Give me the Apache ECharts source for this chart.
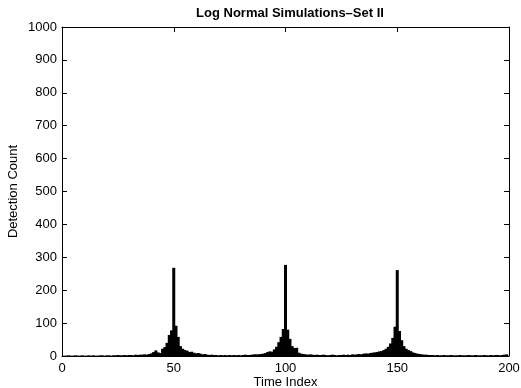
<!DOCTYPE html>
<html>
<head>
<meta charset="utf-8">
<script src="https://cdn.jsdelivr.net/npm/echarts@6/dist/echarts.min.js"></script>
<style>
  html, body { margin: 0; padding: 0; background: #fff; }
  #chart { width: 521px; height: 388px; }
</style>
</head>
<body>
<div id="chart"></div>
<script>
// detection counts for time index 1..199
const detectionCounts = [
  1, 1, 2, 1, 1, 2, 1, 1, 2, 1,          // 1-10
  1, 2, 1, 2, 1, 1, 2, 2, 1, 2,          // 11-20
  2, 1, 2, 2, 3, 2, 2, 3, 2, 3,          // 21-30
  3, 2, 4, 3, 4,                         // 31-35
  4, 5, 4, 6, 8, 12, 17, 11, 9, 22, 27, 40, 64, 78, 268, 92, 58, 30, 22, 18, 16, 12, 13, 10, 8, 9, 7, 5, 6, // 36-64
  4, 3, 4, 3, 3, 2, 3, 2, 3, 2, 3, 2, 3, 2, 3, 2, 3, 4, 3, 3, 4, 5, 5, // 65-87
  5, 6, 7, 9, 12, 14, 13, 20, 28, 42, 58, 82, 277, 80, 52, 30, 24, 25, 10, 7, 6, 5, 4, 5, 4, 3, 4, 3, // 88-115
  3, 4, 3, 2, 3, 4, 3, 2, 3, 3, 4, 3, 4, 3, 5, 4, 5, 6, 5, 7, 8, 7, // 116-137
  9, 10, 11, 12, 14, 15, 18, 22, 28, 38, 55, 89, 261, 76, 48, 30, 22, 18, 15, 11, 9, 7, 6, 5, // 138-161
  4, 4, 3, 3, 3, 2, 3, 2, 2, 3, 2, 2, 3, 2, 2, 2, 3, 2, 2, 2, 3, 2, 2, 3, 2, 2, 2, 3, 2, 2, 3, 2, 3, 3, 2, 3, 4, 5 // 162-199
]
const firstTimeIndex = 1
const xTicks = [0, 50, 100, 150, 200]
const yTicks = [0, 100, 200, 300, 400, 500, 600, 700, 800, 900, 1000]

const chartTitle = 'Log Normal Simulations\u2013Set II'
const xName = 'Time Index'
const yName = 'Detection Count'

const font = '"Liberation Sans", Arial, Helvetica, sans-serif'

const barData = detectionCounts.map((v, i) => [firstTimeIndex + i, v])

const chart = echarts.init(document.getElementById('chart'), null, { renderer: 'canvas' })

// matlab style box: black lines, ticks pointing in, on all four sides
const axisLine = { show: true, onZero: false, lineStyle: { color: '#000', width: 1 } }
const axisTick = { show: true, inside: true, length: 5, lineStyle: { color: '#000', width: 1 } }

const option = {
  animation: false,
  backgroundColor: '#fff',
  title: {
    text: chartTitle,
    left: 285,
    top: 2,
    textAlign: 'center',
    textStyle: { fontFamily: font, fontSize: 13, fontWeight: 'bold', color: '#000' }
  },
  grid: { left: 62, right: 12, top: 27, bottom: 32, containLabel: false, outerBoundsMode: 'none' },
  xAxis: [
    {
      type: 'value',
      min: xTicks[0],
      max: xTicks[xTicks.length - 1],
      interval: 50,
      position: 'bottom',
      name: xName,
      nameLocation: 'middle',
      nameGap: 20,
      nameMoveOverlap: false,
      nameTextStyle: { fontFamily: font, fontSize: 13, color: '#000' },
      axisLine: axisLine,
      axisTick: axisTick,
      axisLabel: { fontFamily: font, fontSize: 13, color: '#000', margin: 6 },
      splitLine: { show: false }
    },
    {
      type: 'value',
      min: xTicks[0],
      max: xTicks[xTicks.length - 1],
      interval: 50,
      position: 'top',
      axisLine: axisLine,
      axisTick: axisTick,
      axisLabel: { show: false },
      splitLine: { show: false }
    }
  ],
  yAxis: [
    {
      type: 'value',
      min: yTicks[0],
      max: yTicks[yTicks.length - 1],
      interval: 100,
      position: 'left',
      name: yName,
      nameLocation: 'middle',
      nameGap: 42,
      nameMoveOverlap: false,
      nameTextStyle: { fontFamily: font, fontSize: 13, color: '#000' },
      axisLine: axisLine,
      axisTick: axisTick,
      axisLabel: { fontFamily: font, fontSize: 13, color: '#000', margin: 5, formatter: (v) => String(v) },
      splitLine: { show: false }
    },
    {
      type: 'value',
      min: yTicks[0],
      max: yTicks[yTicks.length - 1],
      interval: 100,
      position: 'right',
      axisLine: axisLine,
      axisTick: axisTick,
      axisLabel: { show: false },
      splitLine: { show: false }
    }
  ],
  series: [
    {
      type: 'bar',
      xAxisIndex: 0,
      yAxisIndex: 0,
      data: barData,
      barWidth: 3,
      itemStyle: { color: '#000' },
      silent: true
    }
  ]
}

chart.setOption(option)
</script>
</body>
</html>
